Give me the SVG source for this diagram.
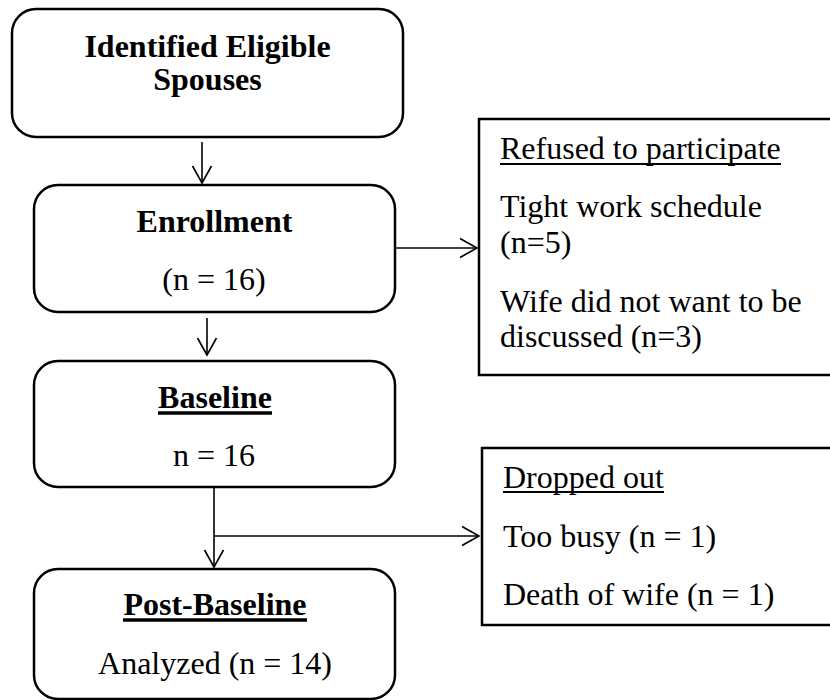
<svg xmlns="http://www.w3.org/2000/svg" width="830" height="700" viewBox="0 0 830 700">
<style>
.rbox{fill:#fff;stroke:#000;stroke-width:2.5}
.sbox{fill:#fff;stroke:#000;stroke-width:2.5}
.t{font-family:"Liberation Serif","Times New Roman",serif;font-size:32px;fill:#000}
.b{font-weight:bold}
.c{text-anchor:middle}
.ul{stroke:#000;stroke-width:2}
.ulb{stroke:#000;stroke-width:3.5}
.conn{fill:none;stroke:#000;stroke-width:1.6}
</style>
<defs>
<marker id="ah" markerUnits="userSpaceOnUse" markerWidth="24" markerHeight="24" viewBox="-20 -12 24 24" refX="0" refY="0" orient="auto">
<path d="M-17,-9.5 L0,0 L-17,9.5" fill="none" stroke="#000" stroke-width="1.6"/>
</marker>
</defs>
<rect width="830" height="700" fill="#fff"/>
<g id="connectors">
<line class="conn" x1="202" y1="142" x2="202" y2="183" marker-end="url(#ah)"/>
<line class="conn" x1="207" y1="318" x2="207" y2="355" marker-end="url(#ah)"/>
<line class="conn" x1="395" y1="248" x2="477" y2="248" marker-end="url(#ah)"/>
<line class="conn" x1="214" y1="487" x2="214" y2="567" marker-end="url(#ah)"/>
<line class="conn" x1="214" y1="536" x2="479" y2="536" marker-end="url(#ah)"/>
</g>
<g id="identified">
<rect class="rbox" x="12" y="9" width="391" height="128" rx="24" ry="24"/>
<text class="t b c" x="207.5" y="57">Identified Eligible</text>
<text class="t b c" x="207.5" y="90">Spouses</text>
</g>
<g id="enrollment">
<rect class="rbox" x="34" y="185" width="361" height="127" rx="24" ry="24"/>
<text class="t b c" x="214.5" y="232">Enrollment</text>
<text class="t c" x="214" y="290">(n = 16)</text>
</g>
<g id="refused">
<rect class="sbox" x="479" y="119" width="380" height="256"/>
<text class="t" x="500" y="159">Refused to participate</text>
<line class="ul" x1="500" y1="164" x2="781" y2="164"/>
<text class="t" x="500" y="217">Tight work schedule</text>
<text class="t" x="500" y="253">(n=5)</text>
<text class="t" x="500" y="312">Wife did not want to be</text>
<text class="t" x="500" y="347">discussed (n=3)</text>
</g>
<g id="baseline">
<rect class="rbox" x="34" y="361" width="361" height="126" rx="24" ry="24"/>
<text class="t b c" x="215" y="408">Baseline</text>
<line class="ulb" x1="158" y1="413" x2="272" y2="413"/>
<text class="t c" x="214" y="466">n = 16</text>
</g>
<g id="dropped">
<rect class="sbox" x="482" y="448" width="380" height="177"/>
<text class="t" x="503" y="488">Dropped out</text>
<line class="ul" x1="503" y1="492" x2="664" y2="492"/>
<text class="t" x="503" y="547">Too busy (n = 1)</text>
<text class="t" x="503" y="605">Death of wife (n = 1)</text>
</g>
<g id="postbaseline">
<rect class="rbox" x="34" y="569" width="361" height="130" rx="24" ry="24"/>
<text class="t b c" x="215" y="615">Post-Baseline</text>
<line class="ulb" x1="123" y1="620" x2="307" y2="620"/>
<text class="t c" x="215" y="674">Analyzed (n = 14)</text>
</g>
</svg>
